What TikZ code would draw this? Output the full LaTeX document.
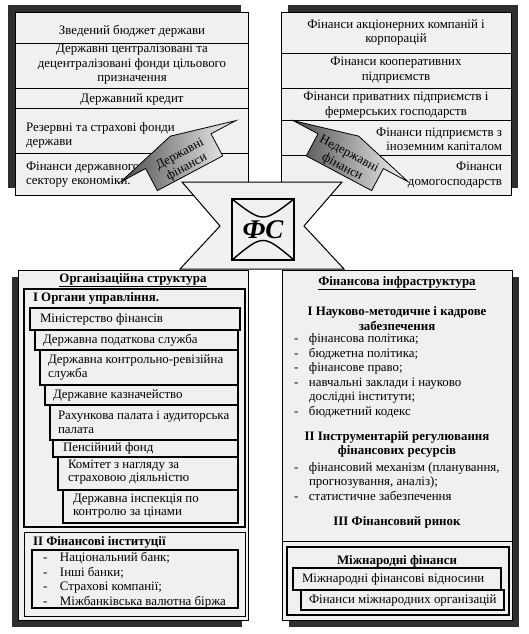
\documentclass[tikz,border=0pt]{standalone}
\usepackage{fontspec}
\setmainfont{Liberation Serif}
\newcommand{\mysz}{\fontsize{12.9}{14.5}\selectfont}
\newcommand{\mysq}{\fontsize{12.9}{13.6}\selectfont}
\definecolor{panelgray}{gray}{0.94}
\definecolor{shadowgray}{gray}{0.18}
\begin{document}
\begin{tikzpicture}[x=1pt,y=-1pt,
  every node/.style={inner sep=0pt,outer sep=0pt,font=\mysz},
  panel/.style={fill=panelgray,draw=black,line width=0.7pt},
  rowline/.style={draw=black,line width=0.7pt},
  stairbox/.style={fill=panelgray,draw=black,line width=1.5pt},
  stairtxt/.style={anchor=west,align=left,font=\mysq},
  framebox/.style={draw=black,line width=1.2pt},
  head/.style={font=\mysz\bfseries},
  farrow/.style={left color=black!70,right color=black!4,draw=black,line width=0.8pt},
]
\fill[white] (0,0) rectangle (529,634);
\useasboundingbox (0,0) rectangle (529,634);

% ---------- top-left panel
\fill[shadowgray] (8,5) rectangle (241,188);
\draw[panel] (15,12) rectangle (248,195);
\draw[rowline] (15,43) -- (248,43) (15,88) -- (248,88) (15,108) -- (248,108) (15,153) -- (248,153);
\node (tl1) at (132,31) {Зведений бюджет держави};
\node[align=center] (tl2) at (132,64.5) {Державні централізовані та\\децентралізовані фонди цільового\\призначення};
\node (tl3) at (132,99) {Державний кредит};
\node[anchor=west,align=left] (tl4) at (26,135.5) {Резервні та страхові фонди\\держави};
\node[anchor=west,align=left] (tl5) at (26,174.5) {Фінанси державного\\сектору економіки.};

% ---------- top-right panel
\fill[shadowgray] (288,5) rectangle (518,188);
\draw[panel] (281,12) rectangle (511,195);
\draw[rowline] (281,53) -- (511,53) (281,88) -- (511,88) (281,120) -- (511,120) (281,155) -- (511,155);
\node[align=center] (tr1) at (396,32.5) {Фінанси акціонерних компаній і\\корпорацій};
\node[align=center] (tr2) at (396,70) {Фінанси кооперативних\\підприємств};
\node[align=center] (tr3) at (396,105) {Фінанси приватних підприємств і\\фермерських господарств};
\node[anchor=east,align=right] (tr4) at (502,139.5) {Фінанси підприємств з\\іноземним капіталом};
\node[anchor=east,align=right] (tr5) at (502,175) {Фінанси\\домогосподарств};

% ---------- bottom-left panel
\fill[shadowgray] (12,277) rectangle (242,627);
\draw[panel] (18,270) rectangle (248,620);
\node[head] (org) at (133,280) {\underline{Організаційна структура}};
\draw[framebox] (24,289) rectangle (245,527);
\node[head,anchor=west] (org1) at (33,298) {I Органи управління.};
\draw[stairbox] (30,308) rectangle (240,330);
\node[stairtxt] (s1) at (40,319) {Міністерство фінансів};
\draw[stairbox] (35,330) rectangle (238,350);
\node[stairtxt] (s2) at (43,340) {Державна податкова служба};
\draw[stairbox] (40,350) rectangle (238,385);
\node[stairtxt] (s3) at (48,367.5) {Державна контрольно-ревізійна\\служба};
\draw[stairbox] (45,385) rectangle (238,405);
\node[stairtxt] (s4) at (53,395) {Державне казначейство};
\draw[stairbox] (50,405) rectangle (238,440);
\node[stairtxt] (s5) at (58,422) {Рахункова палата і аудиторська\\палата};
\draw[stairbox] (53,440) rectangle (238,457);
\node[stairtxt] (s6) at (63,448.5) {Пенсійний фонд};
\draw[stairbox] (58,457) rectangle (238,490);
\node[stairtxt] (s7) at (68,472) {Комітет з нагляду за\\страховою діяльністю};
\draw[stairbox] (63,490) rectangle (238,523);
\node[stairtxt] (s8) at (73,506) {Державна інспекція по\\контролю за цінами};

\draw[framebox,line width=0.9pt] (24,532) rectangle (245,616);
\node[head,anchor=west] (org2) at (33,542) {II Фінансові інституції};
\draw[stairbox] (32,550) rectangle (238,608);
\node[anchor=west,align=left] (l2) at (43,580) {\makebox[17pt][l]{-}Національний банк;\\\makebox[17pt][l]{-}Інші банки;\\\makebox[17pt][l]{-}Страхові компанії;\\\makebox[17pt][l]{-}Міжбанківська валютна біржа};

% ---------- bottom-right panel
\fill[shadowgray] (289,277) rectangle (519,627);
\draw[panel] (282,270) rectangle (512,620);
\node[head] (fi) at (397,283) {\underline{Фінансова інфраструктура}};
\node[head,align=center] (fi1) at (397,318.5) {І Науково-методичне і кадрове\\забезпечення};
\node[anchor=west,align=left] (fl1) at (294,376) {\makebox[15pt][l]{-}фінансова політика;\\\makebox[15pt][l]{-}бюджетна політика;\\\makebox[15pt][l]{-}фінансове право;\\\makebox[15pt][l]{-}навчальні заклади і науково\\\hspace*{15pt}дослідні інститути;\\\makebox[15pt][l]{-}бюджетний кодекс};
\node[head,align=center] (fi2) at (397,444.5) {ІІ Інструментарій регулювання\\фінансових ресурсів};
\node[anchor=west,align=left] (fl2) at (294,481.5) {\makebox[15pt][l]{-}фінансовий механізм (планування,\\\hspace*{15pt}прогнозування, аналіз);\\\makebox[15pt][l]{-}статистичне забезпечення};
\node[head] (fi3) at (397,522) {ІІІ Фінансовий ринок};
\draw[rowline] (282,541) -- (512,541);
\draw[framebox] (287,547) rectangle (509,615);
\node[head] (mf) at (397,561) {Міжнародні фінанси};
\draw[stairbox] (293,568) rectangle (501,590);
\node[anchor=west] (mf1) at (302,579) {Міжнародні фінансові відносини};
\draw[stairbox] (301,590) rectangle (504,610);
\node[anchor=west] (mf2) at (309,600) {Фінанси міжнародних організацій};

% ---------- centre bow-tie
\draw[panel,line width=1pt] (182,182) -- (342,182) -- (304,226) -- (344,269) -- (180,269) -- (220,226) -- cycle;
\draw[line width=1.4pt,fill=panelgray] (232,199) rectangle (294,260);
\draw[line width=1.4pt] (232,199) .. controls (263,223) .. (294,199);
\draw[line width=1.4pt] (232,260) .. controls (263,234) .. (294,260);
\node[font=\fontsize{27}{30}\selectfont\bfseries\itshape] (fs) at (263,230) {ФС};

% ---------- arrows
\begin{scope}[shift={(183,160)},rotate=28,y=1pt]
  \shade[farrow] (-37,-15) -- (37,-15) -- (37,10) -- (65,10) -- (0,27) -- (-65,10) -- (-37,10) -- cycle;
  \node[rotate=28,align=center] (gf) at (0,-1) {Державні\\фінанси};
\end{scope}
\begin{scope}[shift={(346,160)},rotate=-28,y=1pt]
  \shade[farrow] (-37,-15) -- (37,-15) -- (37,10) -- (65,10) -- (0,27) -- (-65,10) -- (-37,10) -- cycle;
  \node[rotate=-28,align=center] (nf) at (0,-1) {Недержавні\\фінанси};
\end{scope}
\end{tikzpicture}
\end{document}
